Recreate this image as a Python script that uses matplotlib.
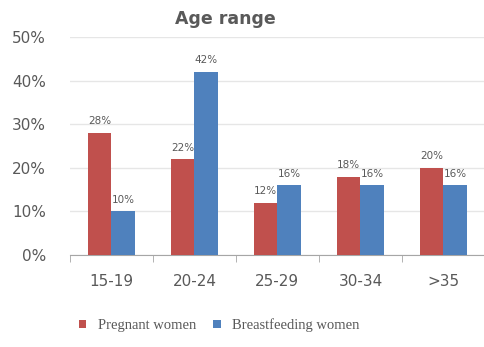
import matplotlib.pyplot as plt
import numpy as np

age_groups = ["15-19", "20-24", "25-29", "30-34", ">35"]
pregnant = [28, 22, 12, 18, 20]
breastfeeding = [10, 42, 16, 16, 16]
yticks = [0, 10, 20, 30, 40, 50]

red = "#C0504D"
blue = "#4F81BD"
grey = "#595959"

fig = plt.figure(figsize=(4.85, 3.47), dpi=100)
ax = fig.add_axes([0.144, 0.265, 0.856, 0.628])

x = np.arange(len(age_groups))
w = 0.28
b1 = ax.bar(x - w / 2, pregnant, w, color=red, label="Pregnant women", zorder=3)
b2 = ax.bar(x + w / 2, breastfeeding, w, color=blue, label="Breastfeeding women", zorder=3)

for bars, vals in ((b1, pregnant), (b2, breastfeeding)):
    for rect, v in zip(bars, vals):
        ax.text(rect.get_x() + rect.get_width() / 2, v + 1.5, f"{v}%",
                ha="center", va="bottom", fontsize=7.5, color=grey)

ax.set_xlim(-0.5, len(age_groups) - 0.5)
ax.set_ylim(0, 50)
ax.set_yticks(yticks)
ax.set_yticklabels([f"{t}%" for t in yticks])
ax.yaxis.grid(True, color="#E6E6E6", linewidth=1, zorder=0)
ax.set_xticks(x)
ax.set_xticklabels(age_groups)
ax.set_xticks(np.arange(len(age_groups) + 1) - 0.5, minor=True)
ax.tick_params(axis="x", which="major", length=0, pad=14, labelsize=11, labelcolor=grey)
ax.tick_params(axis="x", which="minor", length=5, color="#A6A6A6")
ax.tick_params(axis="y", length=0, pad=17, labelsize=11, labelcolor=grey)

for s in ("top", "right", "left"):
    ax.spines[s].set_visible(False)
ax.spines["bottom"].set_color("#A6A6A6")

fig.text(0.464, 0.945, "Age range", ha="center", va="center",
         fontsize=12.5, fontweight="bold", color=grey)

fig.legend(handles=[b1, b2], loc="lower left", bbox_to_anchor=(0.135, 0.005),
           ncol=2, frameon=False, prop={"family": "Liberation Serif", "size": 10.5},
           handlelength=0.5, handleheight=0.5, handletextpad=0.8, columnspacing=1.2,
           labelcolor=grey)

fig.savefig("out.png", dpi=100)
